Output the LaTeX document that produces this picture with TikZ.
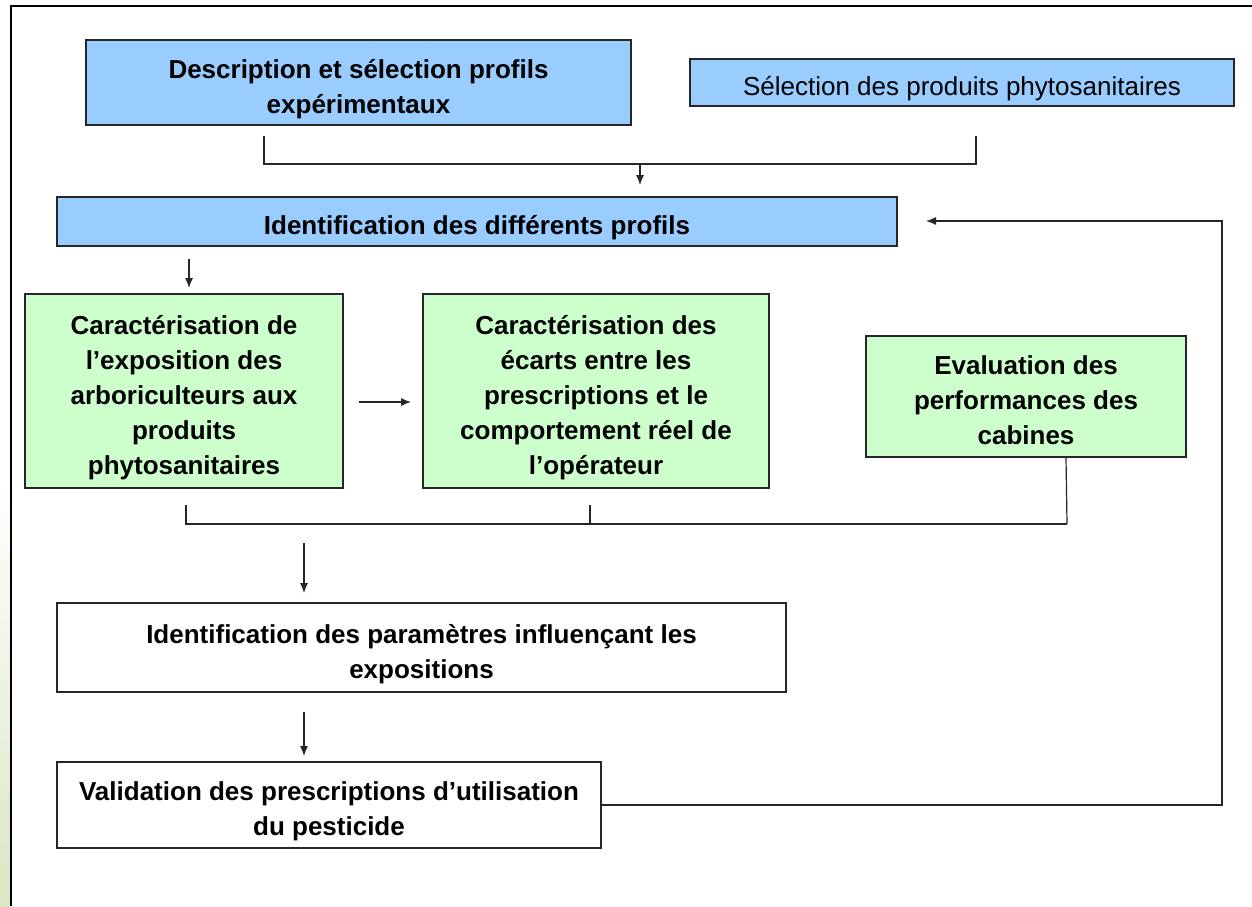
\documentclass[tikz,border=0pt]{standalone}
\usepackage{fontspec}
\setmainfont{Liberation Sans}
\usetikzlibrary{arrows.meta}
\definecolor{bfill}{RGB}{153,204,255}
\definecolor{gfill}{RGB}{204,255,204}
\definecolor{gstrip}{RGB}{218,230,196}
\newcommand{\mytopstr}{\rule{0pt}{32pt}}
\newcommand{\mybotstr}{\rule[-6pt]{0pt}{6pt}}
\begin{document}
\begin{tikzpicture}[x=1pt,y=-1pt,
  box/.style={draw=black!85, line width=1.3pt, inner sep=0pt, align=center, font=\bfseries\fontsize{26}{35}\selectfont},
  bluebox/.style={box, fill=bfill},
  greenbox/.style={box, fill=gfill},
  whitebox/.style={box, fill=white},
  conn/.style={line width=1.2pt, draw=black!85},
  arr/.style={conn, -{Latex[length=10pt,width=8pt]}}]
\useasboundingbox (0,0) rectangle (1252,906);
\shade[top color=white, bottom color=gstrip] (0,480) rectangle (10,906);
\draw[line width=2pt] (1252,6) -- (11,6) -- (11,906);

\node[bluebox, minimum width=545pt, minimum height=85pt] (a) at (358.5,82.5) {\mytopstr Description et sélection profils\\expérimentaux\mybotstr};
\node[bluebox, minimum width=544pt, minimum height=47pt, font=\fontsize{26}{35}\selectfont] (b) at (962,82.5) {\mytopstr Sélection des produits phytosanitaires\mybotstr};
\node[bluebox, minimum width=840pt, minimum height=49pt] (c) at (477,221.5) {\mytopstr Identification des différents profils\mybotstr};
\node[greenbox, minimum width=318pt, minimum height=194pt] (d) at (184,391) {\mytopstr Caractérisation de\\l’exposition des\\arboriculteurs aux\\produits\\phytosanitaires\mybotstr};
\node[greenbox, minimum width=346pt, minimum height=194pt] (e) at (596,391) {\mytopstr Caractérisation des\\écarts entre les\\prescriptions et le\\comportement réel de\\l’opérateur\mybotstr};
\node[greenbox, minimum width=320pt, minimum height=121pt] (f) at (1026,396.5) {\mytopstr Evaluation des\\performances des\\cabines\mybotstr};
\node[whitebox, minimum width=729pt, minimum height=89pt] (g) at (421.5,647.5) {\mytopstr Identification des paramètres influençant les\\expositions\mybotstr};
\node[whitebox, minimum width=544pt, minimum height=86pt] (h) at (329,805) {\mytopstr Validation des prescriptions d’utilisation\\du pesticide\mybotstr};

% top bracket
\coordinate (j1) at (264,136);
\coordinate (j2) at (976,136);
\coordinate (j3) at (640,164);
\coordinate (j4) at (640,185);
\draw[conn] (j1) -- (264,164) -- (976,164) -- (j2);
\draw[arr] (j3) -- (j4);

% C to D
\coordinate (k1) at (189,259);
\coordinate (k2) at (189,288);
\draw[arr] (k1) -- (k2);

% D to E
\coordinate (l1) at (359,402);
\coordinate (l2) at (411,402);
\draw[arr] (l1) -- (l2);

% lower bracket
\coordinate (m1) at (186,505);
\coordinate (m2) at (590,505);
\coordinate (m3) at (1067,524);
\draw[conn] (m1) -- (186,524) -- (m3);
\draw[conn] (m2) -- (590,524);
\draw[conn] (f.south -| 1066,0) -- (m3);

% to G
\coordinate (n1) at (304,543);
\coordinate (n2) at (304,593);
\draw[arr] (n1) -- (n2);

% G to H
\coordinate (o1) at (304,712);
\coordinate (o2) at (304,756);
\draw[arr] (o1) -- (o2);

% feedback
\coordinate (fb) at (926,221);
\draw[arr] (h.east) -- (1222,805) -- (1222,221) -- (fb);
\end{tikzpicture}
\end{document}
